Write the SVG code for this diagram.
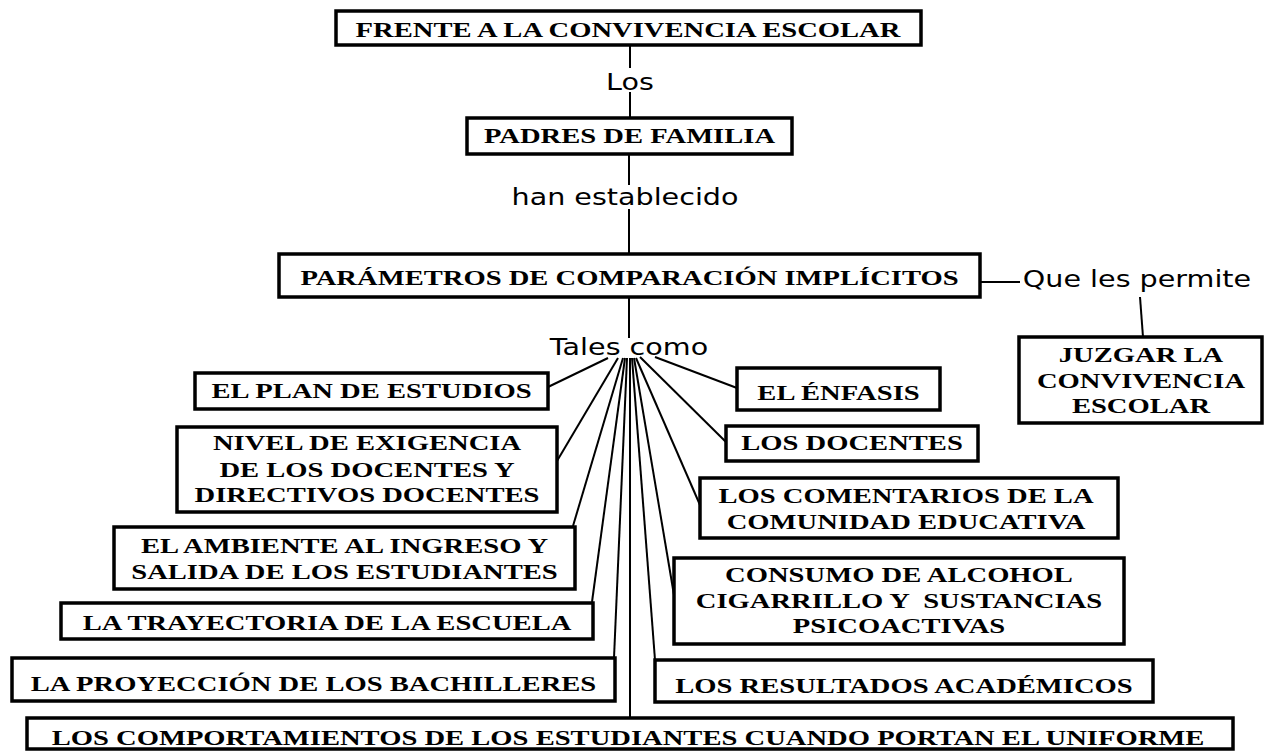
<svg xmlns="http://www.w3.org/2000/svg" width="1265" height="751" viewBox="0 0 1265 751">
<style>
  .box { fill: #ffffff; stroke: #000000; stroke-width: 3.5; }
  .c { stroke: #000000; stroke-width: 2; fill: none; }
  .t { font-family: "Liberation Serif", "Times New Roman", serif; font-weight: bold; font-size: 22px; fill: #000000; text-anchor: middle; transform: scale(1.3, 1); white-space: pre; }
  .l { font-family: "DejaVu Sans", Verdana, sans-serif; font-size: 23px; fill: #000000; text-anchor: middle; transform: scale(1.243, 1); }
</style>
<rect width="1265" height="751" fill="#ffffff"/>
<g id="connectors">
  <line class="c" x1="630" y1="45" x2="630" y2="68"/>
  <line class="c" x1="630" y1="92" x2="630" y2="118"/>
  <line class="c" x1="629" y1="154" x2="629" y2="185"/>
  <line class="c" x1="629" y1="209" x2="629" y2="254"/>
  <line class="c" x1="629" y1="297" x2="629" y2="338"/>
  <line class="c" x1="980" y1="282" x2="1020" y2="282"/>
  <line class="c" x1="1140" y1="297" x2="1143" y2="337"/>
  <line class="c" x1="608" y1="358" x2="548" y2="387"/>
  <line class="c" x1="618" y1="358" x2="557" y2="461"/>
  <line class="c" x1="623" y1="358" x2="573" y2="526"/>
  <line class="c" x1="625" y1="358" x2="592" y2="602"/>
  <line class="c" x1="627" y1="358" x2="614" y2="658"/>
  <line class="c" x1="630" y1="358" x2="630" y2="718"/>
  <line class="c" x1="632" y1="358" x2="655" y2="660"/>
  <line class="c" x1="634" y1="358" x2="674" y2="595"/>
  <line class="c" x1="636" y1="358" x2="700" y2="505"/>
  <line class="c" x1="640" y1="357" x2="726" y2="442"/>
  <line class="c" x1="655" y1="357" x2="737" y2="388"/>
</g>
<g id="frente">
  <rect class="box" x="336" y="11" width="585" height="34"/>
  <g transform="translate(628,37)"><text class="t">FRENTE A LA CONVIVENCIA ESCOLAR</text></g>
</g>
<g id="lbl-los">
  <g transform="translate(630,90)"><text class="l">Los</text></g>
</g>
<g id="padres">
  <rect class="box" x="467" y="118" width="325" height="36"/>
  <g transform="translate(629.5,143)"><text class="t">PADRES DE FAMILIA</text></g>
</g>
<g id="lbl-han">
  <g transform="translate(625,205)"><text class="l">han establecido</text></g>
</g>
<g id="parametros">
  <rect class="box" x="279" y="254" width="701" height="43"/>
  <g transform="translate(629.5,285)"><text class="t">PARÁMETROS DE COMPARACIÓN IMPLÍCITOS</text></g>
</g>
<g id="lbl-que">
  <g transform="translate(1137,287)"><text class="l">Que les permite</text></g>
</g>
<g id="juzgar">
  <rect class="box" x="1019" y="337" width="243" height="86"/>
  <g transform="translate(1141,0)"><text class="t"><tspan x="0" y="362">JUZGAR LA</tspan><tspan x="0" y="388">CONVIVENCIA</tspan><tspan x="0" y="413">ESCOLAR</tspan></text></g>
</g>
<g id="lbl-tales">
  <g transform="translate(629,355)"><text class="l">Tales como</text></g>
</g>
<g id="plan">
  <rect class="box" x="195" y="373" width="353" height="36"/>
  <g transform="translate(371.5,398)"><text class="t">EL PLAN DE ESTUDIOS</text></g>
</g>
<g id="nivel">
  <rect class="box" x="177" y="427" width="380" height="85"/>
  <g transform="translate(367,0)"><text class="t"><tspan x="0" y="450">NIVEL DE EXIGENCIA</tspan><tspan x="0" y="477">DE LOS DOCENTES Y</tspan><tspan x="0" y="502">DIRECTIVOS DOCENTES</tspan></text></g>
</g>
<g id="ambiente">
  <rect class="box" x="114" y="527" width="461" height="62"/>
  <g transform="translate(344.5,0)"><text class="t"><tspan x="0" y="553">EL AMBIENTE AL INGRESO Y</tspan><tspan x="0" y="579">SALIDA DE LOS ESTUDIANTES</tspan></text></g>
</g>
<g id="trayectoria">
  <rect class="box" x="61" y="603" width="532" height="36"/>
  <g transform="translate(327,630)"><text class="t">LA TRAYECTORIA DE LA ESCUELA</text></g>
</g>
<g id="proyeccion">
  <rect class="box" x="12" y="658" width="603" height="43"/>
  <g transform="translate(313.5,691)"><text class="t">LA PROYECCIÓN DE LOS BACHILLERES</text></g>
</g>
<g id="comportamientos">
  <rect class="box" x="27" y="718" width="1206" height="31"/>
  <g transform="translate(628,745)"><text class="t">LOS COMPORTAMIENTOS DE LOS ESTUDIANTES CUANDO PORTAN EL UNIFORME</text></g>
</g>
<g id="enfasis">
  <rect class="box" x="737" y="368" width="203" height="42"/>
  <g transform="translate(838.5,400)"><text class="t">EL ÉNFASIS</text></g>
</g>
<g id="docentes">
  <rect class="box" x="726" y="426" width="252" height="35"/>
  <g transform="translate(852,450)"><text class="t">LOS DOCENTES</text></g>
</g>
<g id="comentarios">
  <rect class="box" x="700" y="478" width="418" height="60"/>
  <g transform="translate(906,0)"><text class="t"><tspan x="0" y="503">LOS COMENTARIOS DE LA</tspan><tspan x="0" y="529">COMUNIDAD EDUCATIVA</tspan></text></g>
</g>
<g id="consumo">
  <rect class="box" x="674" y="558" width="450" height="86"/>
  <g transform="translate(899,0)"><text class="t"><tspan x="0" y="582">CONSUMO DE ALCOHOL</tspan><tspan x="0" y="608">CIGARRILLO Y  SUSTANCIAS</tspan><tspan x="0" y="633">PSICOACTIVAS</tspan></text></g>
</g>
<g id="resultados">
  <rect class="box" x="655" y="660" width="498" height="42"/>
  <g transform="translate(904,693)"><text class="t">LOS RESULTADOS ACADÉMICOS</text></g>
</g>
</svg>
